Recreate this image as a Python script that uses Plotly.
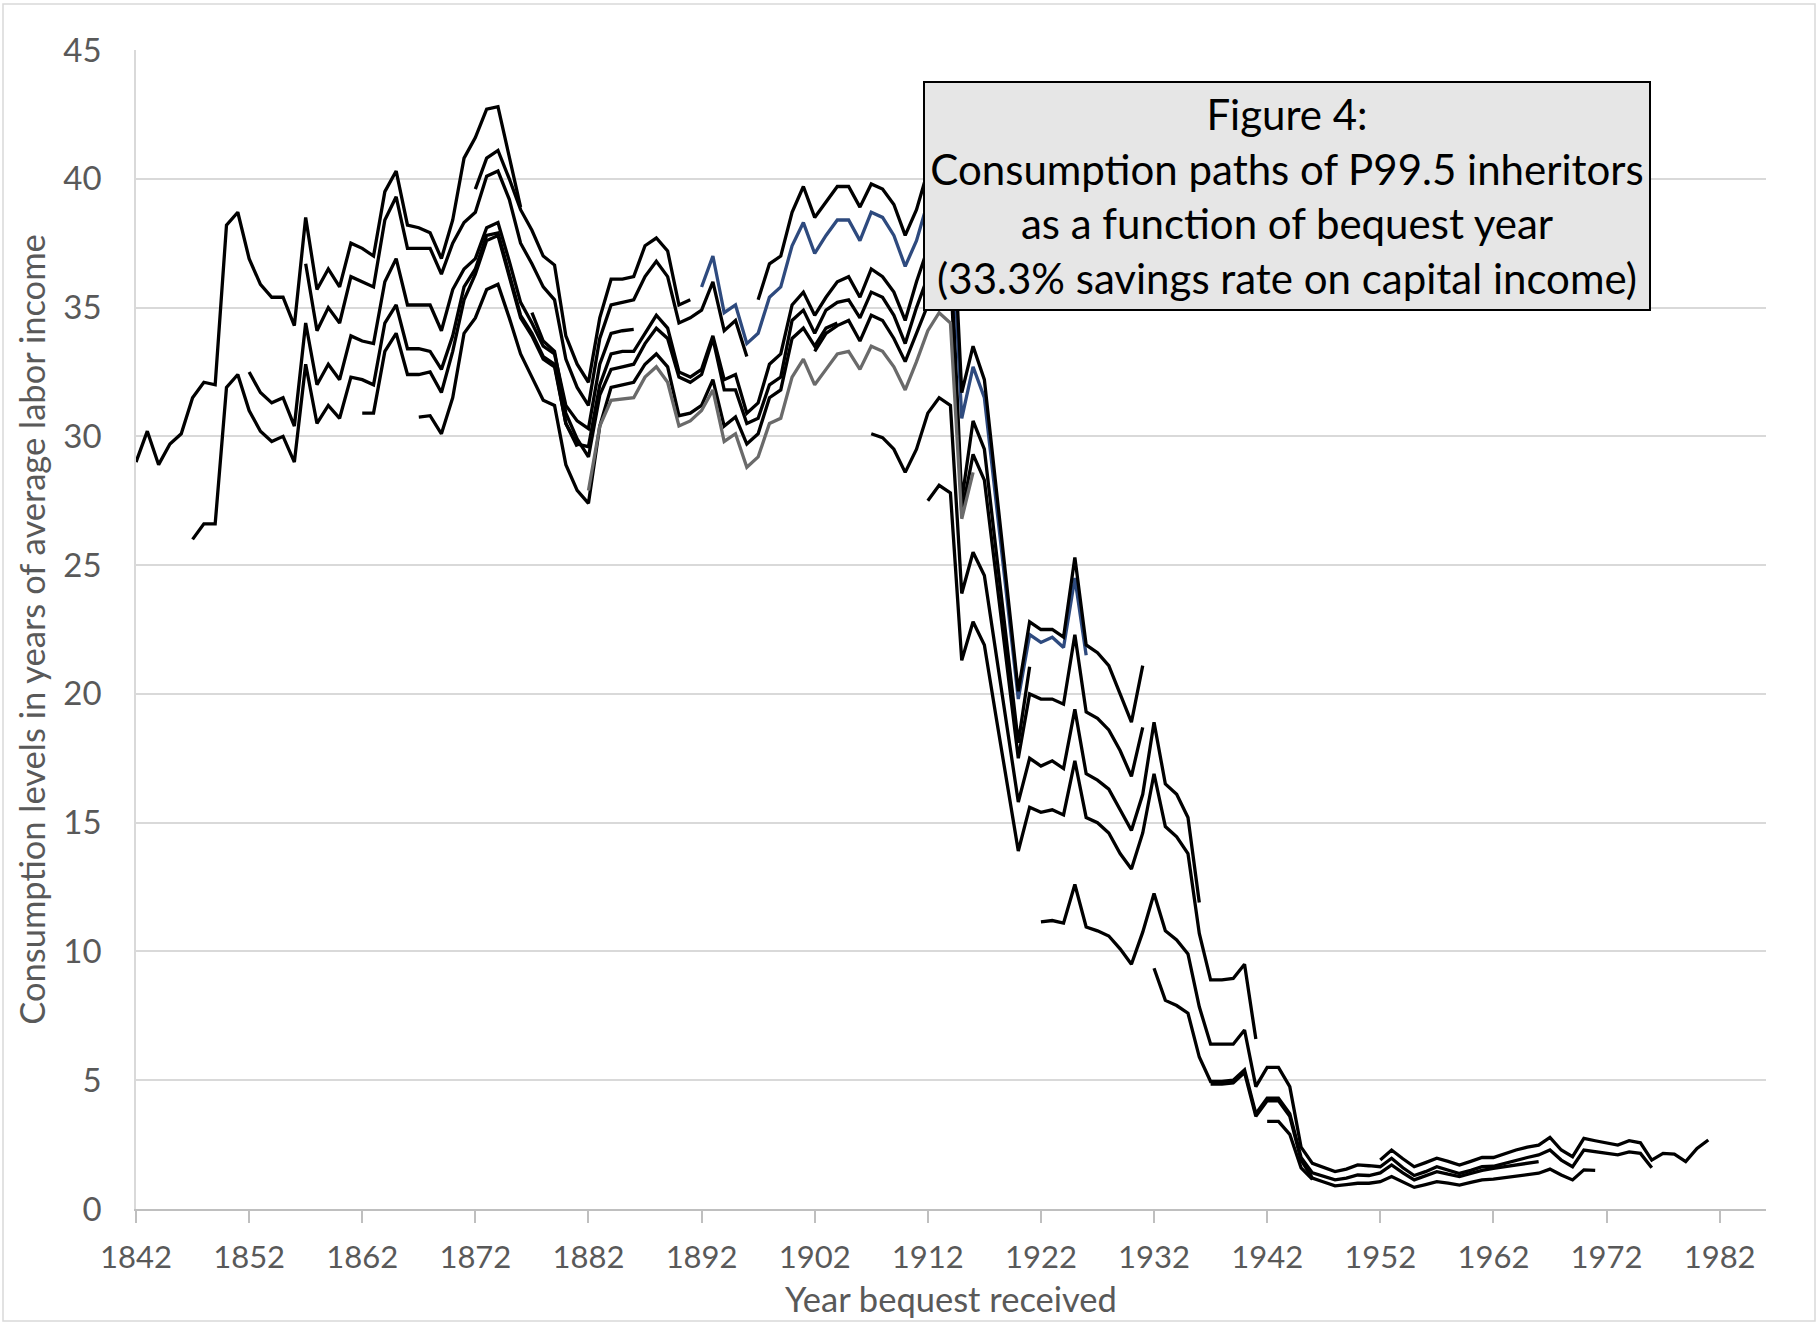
import plotly.graph_objects as go

# ---------------- data (consumption levels, years of average labor income) ----------------
x_tick_values = [1842, 1852, 1862, 1872, 1882, 1892, 1902, 1912, 1922, 1932, 1942, 1952, 1962, 1972, 1982]
x_tick_labels = ["1842", "1852", "1862", "1872", "1882", "1892", "1902", "1912", "1922", "1932", "1942", "1952", "1962", "1972", "1982"]
y_tick_values = [0, 5, 10, 15, 20, 25, 30, 35, 40, 45]

p1842_start = 1842
p1842 = [29.0, 30.2, 28.9, 29.7, 30.1, 31.5, 32.1, 32.0, 38.2, 38.7, 36.9, 35.9, 35.4, 35.4, 34.3,
         38.5, 35.7, 36.5, 35.8, 37.5, 37.3, 37.0, 39.5, 40.3, 38.2, 38.1, 37.9, 36.9, 38.4, 40.8,
         41.6, 42.7, 42.8, 40.8, 38.9]

p1847_start = 1847
p1847 = [26.0, 26.6, 26.6, 31.9, 32.4, 31.0, 30.2, 29.8, 30.0, 29.0, 32.8, 30.5, 31.2, 30.7, 32.3,
         32.2, 32.0, 34.4, 35.1, 33.4, 33.4, 33.3, 32.6, 33.9, 35.8, 36.5, 37.8, 37.9, 36.3, 34.7,
         34.0, 33.1, 32.8, 30.5, 29.6]

p1852_start = 1852
p1852 = [32.5, 31.7, 31.3, 31.5, 30.4, 34.4, 32.0, 32.8, 32.2, 33.9, 33.7, 33.6, 36.0, 36.9, 35.1,
         35.1, 35.1, 34.1, 35.7, 36.5, 36.9, 38.1, 38.3, 36.8, 35.2, 34.4, 33.5, 33.2, 31.2, 30.6,
         30.3, 32.8, 34.0, 34.1, 34.15]

p1857_start = 1857
p1857 = [36.7, 34.1, 35.0, 34.4, 36.2, 36.0, 35.8, 38.4, 39.3, 37.3, 37.3, 37.3, 36.3, 37.5, 38.3,
         38.7, 40.1, 40.3, 39.2, 37.5, 36.7, 35.8, 35.3, 33.0, 31.9, 31.2, 33.8, 35.1, 35.2, 35.3,
         36.2, 36.8, 36.2, 34.4, 34.6, 34.9, 36.0, 34.1, 34.5, 33.1]

p1862_start = 1862
p1862 = [30.9, 30.9, 33.3, 34.0, 32.4, 32.4, 32.5, 31.7, 33.3, 35.3, 36.3, 37.6, 37.8, 36.2, 34.6,
         33.9, 33.0, 32.7, 30.5, 29.7, 29.6, 32.0, 33.2, 33.3, 33.3, 34.0, 34.7, 34.2, 32.5, 32.3,
         32.6, 33.9, 32.2, 32.4, 30.9, 31.3, 32.8, 33.2, 35.1, 35.6, 34.7, 35.4, 36.0, 36.2, 35.4,
         36.5, 36.2, 35.6, 34.5, 36.0, 37.3, 38.0, 37.6, 27.5, 30.6, 29.5, 25.7, 21.9, 18.1, 21.05]

p1867_start = 1867
p1867 = [30.75, 30.8, 30.1, 31.5, 34.0, 34.6, 35.7, 35.9, 34.6, 33.2, 32.3, 31.4, 31.2, 28.9, 27.9,
         27.4, 30.4, 31.9, 32.0, 32.1, 32.8, 33.2, 32.7, 30.8, 30.9, 31.2, 32.2, 30.4, 30.75, 29.7,
         30.1, 31.5, 31.8, 33.8, 34.2, 33.5, 34.2, 34.4]

p1872_start = 1872
p1872 = [39.6, 40.8, 41.1, 40.0, 38.8, 38.0, 37.0, 36.65, 33.9, 32.8, 32.1, 34.6, 36.1, 36.1, 36.2,
         37.4, 37.7, 37.2, 35.1, 35.3]

p1877_start = 1877
p1877 = [34.8, 33.7, 33.3, 30.9, 29.9, 29.2, 31.6, 32.6, 32.7, 32.8, 33.6, 34.2, 33.8, 32.3, 32.1,
         32.4, 33.8, 31.8, 31.8, 30.5, 30.7, 32.0, 32.3, 34.5, 34.9, 34.0, 34.9, 35.2, 35.3, 34.6,
         35.6, 35.4, 34.7, 33.6, 35.0, 36.2, 36.9, 36.5, 27.0, 29.3, 28.3, 24.7, 21.1, 17.5, 20.0,
         19.8, 19.8, 19.6, 22.3, 19.3, 19.05, 18.6, 17.8, 16.8, 18.7]

p1882_start = 1882
p1882 = [27.9, 30.4, 31.4, 31.45, 31.5, 32.3, 32.7, 32.1, 30.4, 30.6, 31.0, 31.8, 29.8, 30.1, 28.8,
         29.2, 30.5, 30.7, 32.3, 33.0, 32.0, 32.6, 33.2, 33.3, 32.6, 33.5, 33.3, 32.7, 31.8, 32.9,
         34.1, 34.8, 34.4, 26.8, 28.6]

p1892_start = 1892
p1892 = [35.8, 37.0, 34.8, 35.1, 33.6, 34.0, 35.4, 35.8, 37.4, 38.3, 37.1, 37.8, 38.4, 38.4, 37.6,
         38.7, 38.5, 37.8, 36.6, 37.6, 39.1, 39.8, 39.4, 30.7, 32.7, 31.5, 27.6, 23.7, 19.8, 22.3,
         22.0, 22.2, 21.8, 24.5, 21.5]

p1897_start = 1897
p1897 = [35.3, 36.7, 37.0, 38.7, 39.7, 38.5, 39.1, 39.7, 39.7, 38.9, 39.8, 39.6, 39.0, 37.8, 38.8,
         40.3, 41.0, 40.6, 31.7, 33.5, 32.2, 28.2, 24.1, 20.1, 22.8, 22.5, 22.5, 22.2, 25.3, 21.9,
         21.6, 21.1, 20.0, 18.9, 21.1]

p1902_start = 1902
p1902 = [33.3, 34.0, 34.3, 34.5, 33.7, 34.7, 34.5, 33.8, 32.9, 34.0, 35.1, 35.8, 35.4]

p1907_start = 1907
p1907 = [30.1, 29.95, 29.5, 28.6, 29.5, 30.9, 31.5, 31.2, 23.9, 25.5, 24.6, 21.6, 18.6, 15.8, 17.5,
         17.2, 17.4, 17.1, 19.4, 16.9, 16.65, 16.3, 15.5, 14.7, 16.1, 18.9, 16.5, 16.1, 15.2, 11.9]

p1912_start = 1912
p1912 = [27.5, 28.1, 27.8, 21.3, 22.8, 21.9, 19.2, 16.5, 13.9, 15.6, 15.4, 15.5, 15.3, 17.4, 15.2,
         15.0, 14.6, 13.8, 13.2, 14.6, 16.9, 14.85, 14.45, 13.8, 10.7, 8.9, 8.9, 8.95, 9.5, 6.6]

p1922_start = 1922
p1922 = [11.15, 11.2, 11.1, 12.6, 10.95, 10.8, 10.6, 10.1, 9.5, 10.75, 12.25, 10.8, 10.45, 9.9, 7.85,
         6.4, 6.4, 6.4, 6.95, 4.75, 5.5, 5.5, 4.75, 2.4, 1.77, 1.6, 1.45, 1.55, 1.71, 1.68,
         1.64, 1.97, 1.6, 1.3, 1.45, 1.64, 1.5, 1.38, 1.5, 1.64, 1.66, 1.78, 1.9, 2.0, 2.1,
         2.29, 1.9, 1.64, 2.29, 2.22, 2.16, 2.1, 2.22, 2.16, 1.6]

p1932_start = 1932
p1932 = [9.35, 8.1, 7.9, 7.6, 5.9, 4.95, 4.95, 5.0, 5.4, 3.7, 4.3, 4.3, 3.7, 2.0, 1.4,
         1.25, 1.13, 1.2, 1.32, 1.3, 1.4, 1.71, 1.4, 1.13, 1.3, 1.45, 1.35, 1.26, 1.38, 1.5,
         1.58, 1.65, 1.71, 1.78, 1.84]

p1937_start = 1937
p1937 = [4.85, 4.85, 4.9, 5.3, 3.6, 4.2, 4.2, 3.6, 1.9, 1.2, 1.05, 0.9, 0.95, 1.0, 1.0,
         1.06, 1.26, 1.05, 0.84, 0.95, 1.06, 1.0, 0.93, 1.03, 1.13, 1.16, 1.22, 1.29, 1.34, 1.39,
         1.55, 1.32, 1.13, 1.52, 1.5]

p1942_start = 1942
p1942 = [3.4, 3.4, 2.9, 1.6, 1.15]

p1952_start = 1952
p1952 = [1.9, 2.29, 1.95, 1.64, 1.8, 1.97, 1.85, 1.71, 1.85, 2.0, 2.0, 2.15, 2.29, 2.4, 2.48,
         2.78, 2.29, 2.03, 2.74, 2.65, 2.55, 2.48, 2.65, 2.57, 1.9, 2.16, 2.13, 1.84, 2.35, 2.68]

title_lines = ["Figure 4:", "Consumption paths of P99.5 inheritors",
               "as a function of bequest year", "(33.3% savings rate on capital income)"]
x_title = "Year bequest received"
y_title = "Consumption levels in years of average labor income"

# ---------------- drawing ----------------
BLACK = "#000000"
BLUE = "#2E4A7E"
GRAY = "#6A6A6A"

paths = [
    (p1842_start, p1842, BLACK), (p1847_start, p1847, BLACK), (p1852_start, p1852, BLACK),
    (p1857_start, p1857, BLACK), (p1862_start, p1862, BLACK), (p1867_start, p1867, BLACK),
    (p1872_start, p1872, BLACK), (p1877_start, p1877, BLACK), (p1882_start, p1882, GRAY),
    (p1892_start, p1892, BLUE), (p1897_start, p1897, BLACK), (p1902_start, p1902, BLACK),
    (p1907_start, p1907, BLACK), (p1912_start, p1912, BLACK), (p1922_start, p1922, BLACK),
    (p1932_start, p1932, BLACK), (p1937_start, p1937, BLACK), (p1942_start, p1942, BLACK),
    (p1952_start, p1952, BLACK),
]

fig = go.Figure()
for start, vals, col in paths:
    fig.add_trace(go.Scatter(
        x=list(range(start, start + len(vals))), y=vals, mode="lines",
        line=dict(color=col, width=3.3), hoverinfo="x+y", showlegend=False))

FONT = "Lato, 'Open Sans', 'Noto Sans', sans-serif"
TXT = "#595959"

W, H = 1818, 1324
ML, MR, MT, MB = 136, 52, 50, 115
PW, PH = W - ML - MR, H - MT - MB

fig.update_layout(
    width=W, height=H,
    margin=dict(l=ML, r=MR, t=MT, b=MB, autoexpand=False),
    paper_bgcolor="white", plot_bgcolor="white",
    font=dict(family=FONT, size=31, color=TXT),
    showlegend=False,
    xaxis=dict(
        range=[1842, 1986.1], tickvals=x_tick_values, ticktext=x_tick_labels,
        ticks="outside", ticklen=12, tickwidth=2, tickcolor="#bfbfbf",
        showline=True, linecolor="#bfbfbf", linewidth=2,
        showgrid=False, zeroline=False, ticklabelstandoff=8, automargin=False,
        tickfont=dict(family=FONT, size=31, color=TXT),
        title=dict(text=x_title, font=dict(family=FONT, size=34.5, color=TXT), standoff=14),
    ),
    yaxis=dict(
        range=[0, 45], tickvals=y_tick_values,
        showgrid=True, gridcolor="#d9d9d9", gridwidth=1.5,
        showline=True, linecolor="#d9d9d9", linewidth=1.5,
        zeroline=False, ticks="", ticklabelstandoff=26, automargin=False,
        tickfont=dict(family=FONT, size=33, color=TXT),
        title=dict(text=y_title, font=dict(family=FONT, size=34.5, color=TXT), standoff=7),
    ),
    shapes=[dict(type="rect", xref="paper", yref="paper",
                 x0=-(ML - 3) / PW, x1=1 + (MR - 3) / PW,
                 y0=-(MB - 3) / PH, y1=1 + (MT - 4) / PH,
                 line=dict(color="#d9d9d9", width=1.5), fillcolor="rgba(0,0,0,0)", layer="below")],
    annotations=[dict(
        xref="paper", yref="paper", x=0.706, y=0.874, xanchor="center", yanchor="middle",
        text="<br>".join(title_lines), showarrow=False, align="center",
        font=dict(family=FONT, size=42, color="#000000"),
        bgcolor="#e6e6e6", bordercolor="#000000", borderwidth=2, borderpad=4,
        width=716, height=218)],
)

fig.write_html("out.html", config={"displayModeBar": False},
               post_script="document.body.style.margin='0';")
